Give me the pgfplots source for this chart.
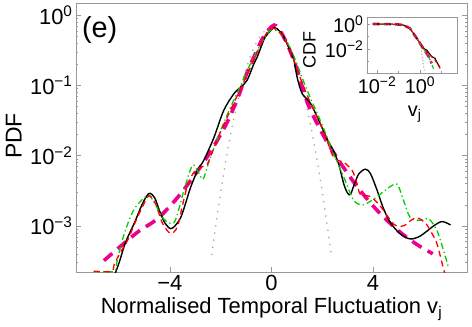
\documentclass[border=0pt]{standalone}
\usepackage{fontspec}
\setmainfont{Liberation Sans}
\usepackage{pgfplots}
\pgfplotsset{compat=1.18}
\definecolor{axgray}{gray}{0.6}
\definecolor{dgreen}{RGB}{0,205,0}
\definecolor{gaussgray}{gray}{0.68}
\begin{document}
\begin{tikzpicture}
\path[use as bounding box] (-76bp,-55bp) rectangle (396bp,272bp);
% main PDF panel
\begin{axis}[
    at={(0,0)}, anchor=south west,
    scale only axis, width=391bp, height=268.7bp,
    ymode=log,
    xmin=-7.7, xmax=7.7, ymin=2.2e-4, ymax=1.47,
    xtick={-4,0,4}, xticklabels={−4,0,4},
    ytick={1e-3,1e-2,1e-1,1},
    yticklabels={10\textsuperscript{−3},10\textsuperscript{−2},10\textsuperscript{−1},10\textsuperscript{0}},
    minor ytick={3e-4,4e-4,5e-4,6e-4,7e-4,8e-4,9e-4,2e-3,3e-3,4e-3,5e-3,6e-3,7e-3,8e-3,9e-3,
                 2e-2,3e-2,4e-2,5e-2,6e-2,7e-2,8e-2,9e-2,0.2,0.3,0.4,0.5,0.6,0.7,0.8,0.9},
    xtick pos=bottom, ytick pos=both,
    tick align=inside,
    major tick length=5bp, minor tick length=2.5bp,
    axis line style={axgray}, tick style={axgray},
    tick label style={font=\fontsize{22}{26}\selectfont},
    xlabel={Normalised Temporal Fluctuation v\textsubscript{j}},
    ylabel={PDF},
    every axis x label/.style={font=\fontsize{22}{26}\selectfont, at={(axis description cs:0.5,0)}, anchor=base, yshift=-41bp},
    every axis y label/.style={font=\fontsize{23}{27}\selectfont, at={(axis description cs:-0.159,0.506)}, anchor=center, rotate=90},
]
% Gaussian reference
\addplot[gaussgray, line width=1.7bp, line cap=round, dash pattern=on 0.2bp off 7bp, smooth] coordinates {
(-2.35,3.9e-4) (-2.25,7.3e-4) (-2.0,3.03e-3) (-1.75,1.07e-2) (-1.5,3.18e-2) (-1.25,8.0e-2)
(-1.0,0.171) (-0.75,0.307) (-0.5,0.467) (-0.25,0.601) (0,0.654) (0.25,0.601) (0.5,0.467)
(0.75,0.307) (1.0,0.171) (1.25,8.0e-2) (1.5,3.18e-2) (1.75,1.07e-2) (2.0,3.03e-3)
(2.25,7.3e-4) (2.35,3.9e-4)};
% fitted model
\addplot[magenta, line width=3.6bp, dash pattern=on 11bp off 7bp, smooth] coordinates {
(-6.6,3.2e-4) (-5.3,8.0e-4) (-4.5,1.25e-3) (-3.71,2.5e-3) (-2.93,5.9e-3) (-2.33,1.25e-2)
(-1.74,3.0e-2) (-1.3,7.0e-2) (-1.0,0.14) (-0.6,0.3) (-0.3,0.5) (0.1,0.72) (0.4,0.55)
(0.7,0.33) (1.0,0.17) (1.3,7.5e-2) (1.54,4.4e-2) (2.13,1.7e-2) (2.7,8.0e-3) (3.4,3.5e-3)
(4.2,1.6e-3) (5.0,8.5e-4) (5.7,5.5e-4) (6.35,4.0e-4)};
% data 1
\addplot[black, line width=1.4bp, smooth, tension=0.5] coordinates {
(-6.2,1.9e-4) (-6.0,3.0e-4) (-5.75,5.8e-4) (-5.4,1.1e-3) (-5.1,2.0e-3) (-4.9,2.7e-3)
(-4.78,2.9e-3) (-4.6,2.5e-3) (-4.4,1.6e-3) (-4.2,1.1e-3) (-3.98,9.1e-4) (-3.8,1.0e-3)
(-3.58,1.3e-3) (-3.4,2.0e-3) (-3.19,3.5e-3) (-2.9,6.3e-3) (-2.67,8.5e-3) (-2.27,1.8e-2)
(-1.88,4.4e-2) (-1.48,7.6e-2) (-1.2,9.5e-2) (-0.96,0.118) (-0.7,0.2) (-0.56,0.254)
(-0.4,0.36) (-0.24,0.49) (0.09,0.66) (0.3,0.6) (0.48,0.49) (0.7,0.33) (0.88,0.23)
(1.01,0.13) (1.21,7.6e-2) (1.54,5.5e-2) (1.93,2.8e-2) (2.2,1.7e-2) (2.45,1.15e-2)
(2.65,7.5e-3) (2.85,3.9e-3) (3.0,2.9e-3) (3.11,2.8e-3) (3.25,3.8e-3) (3.44,5.5e-3)
(3.70,6.4e-3) (3.9,5.5e-3) (4.16,3.2e-3) (4.4,1.8e-3) (4.69,1.1e-3) (5.08,7.6e-4)
(5.47,6.5e-4) (5.87,7.2e-4) (6.39,1.0e-3) (6.72,1.15e-3) (7.05,1.03e-3)};
% data 2
\addplot[dgreen, line width=1.3bp, dash pattern=on 6bp off 3bp on 1.3bp off 3bp, smooth, tension=0.5] coordinates {
(-7.0,2.25e-4) (-6.2,2.25e-4) (-6.08,3.2e-4) (-5.81,7.5e-4) (-5.42,1.7e-3) (-4.9,2.7e-3)
(-4.7,2.4e-3) (-4.24,1.25e-3) (-3.85,1.1e-3) (-3.6,2.0e-3) (-3.45,3.2e-3) (-3.12,7.2e-3)
(-2.9,6.0e-3) (-2.7,4.6e-3) (-2.5,7.5e-3) (-2.2,1.5e-2) (-1.9,2.8e-2) (-1.6,5.0e-2)
(-1.3,8.5e-2) (-1.0,0.15) (-0.7,0.25) (-0.4,0.4) (-0.1,0.58) (0.05,0.62) (0.3,0.57)
(0.6,0.42) (0.9,0.25) (1.2,0.13) (1.5,7.0e-2) (1.8,4.0e-2) (2.1,2.2e-2) (2.45,1.05e-2)
(2.85,4.9e-3) (3.24,2.3e-3) (3.63,2.0e-3) (4.16,2.6e-3) (4.62,3.5e-3) (4.95,3.9e-3)
(5.2,2.3e-3) (5.47,1.3e-3) (5.87,1.2e-3) (6.2,1.25e-3) (6.52,8.5e-4) (6.78,4.4e-4)
(6.98,2.5e-4)};
% data 3
\addplot[red, line width=1.3bp, dash pattern=on 6bp off 4bp, smooth, tension=0.5] coordinates {
(-7.0,2.25e-4) (-6.3,2.25e-4) (-6.2,2.8e-4) (-5.95,4.2e-4) (-5.68,6.1e-4) (-5.29,1.3e-3)
(-4.9,2.5e-3) (-4.75,2.6e-3) (-4.55,2.0e-3) (-4.3,1.1e-3) (-3.98,7.8e-4) (-3.71,9.6e-4)
(-3.5,2.0e-3) (-3.32,3.6e-3) (-3.1,5.5e-3) (-2.93,6.4e-3) (-2.7,7.0e-3) (-2.53,7.5e-3)
(-2.3,1.2e-2) (-2.0,2.2e-2) (-1.7,3.8e-2) (-1.4,6.5e-2) (-1.1,0.11) (-0.8,0.19)
(-0.5,0.33) (-0.2,0.55) (0.05,0.65) (0.3,0.58) (0.6,0.4) (0.9,0.22) (1.2,0.11)
(1.5,6.0e-2) (1.8,3.5e-2) (2.1,2.0e-2) (2.45,9.4e-3) (2.85,8.0e-3) (3.18,6.1e-3)
(3.35,4.2e-3) (3.5,2.8e-3) (3.9,2.6e-3) (4.29,1.9e-3) (4.82,1.05e-3) (5.2,1.0e-3)
(5.5,1.2e-3) (5.74,1.3e-3) (6.06,1.1e-3) (6.3,8.0e-4) (6.52,5.5e-4) (6.78,2.4e-4)
(6.85,2.0e-4)};
\node[anchor=base west, inner sep=0, font=\fontsize{29}{34}\selectfont] at (rel axis cs:0.015,0.871) {(e)};
\end{axis}
% inset CDF panel
\begin{axis}[
    at={(291bp,199bp)}, anchor=south west,
    scale only axis, width=90bp, height=56bp,
    xmode=log, ymode=log,
    xmin=0.0034, xmax=52.5, ymin=1.2e-4, ymax=3.63,
    xtick={0.01,1}, xticklabels={10\textsuperscript{−2},10\textsuperscript{0}},
    ytick={0.01,1}, yticklabels={10\textsuperscript{−2},10\textsuperscript{0}},
    minor xtick={0.1,10}, minor ytick={1e-3,0.1},
    xtick pos=bottom, ytick pos=left,
    tick align=inside,
    major tick length=3bp, minor tick length=1.5bp,
    axis line style={axgray}, tick style={axgray},
    axis background/.style={fill=white},
    tick label style={font=\fontsize{20}{24}\selectfont},
    xlabel={v\textsubscript{j}}, ylabel={CDF},
    every axis x label/.style={font=\fontsize{20}{24}\selectfont, at={(axis description cs:0.53,-0.74)}, anchor=center},
    every axis y label/.style={font=\fontsize{18}{22}\selectfont, at={(axis description cs:-0.64,0.41)}, anchor=center, rotate=90},
]
\addplot[gaussgray, line width=1.3bp, line cap=round, dash pattern=on 0.2bp off 3bp] coordinates {
(0.00631,1) (0.1,0.912) (0.339,0.447) (0.589,0.1) (0.794,0.063) (1.0,0.0389)
(1.2,0.00447) (1.413,5.25e-4) (1.585,2.09e-4)};
\addplot[magenta, line width=2.6bp, dash pattern=on 7bp off 4bp] coordinates {
(0.00631,1) (0.0316,0.977) (0.1,0.912) (0.166,0.832) (0.339,0.447) (0.708,0.0708)
(1.413,0.0112) (2.51,0.00251) (3.47,7.08e-4)};
\addplot[black, line width=1.1bp] coordinates {
(0.00631,1) (0.0316,0.977) (0.1,0.912) (0.166,0.832) (0.339,0.447) (0.708,0.0708)
(1.413,0.0112) (2.04,0.00832) (3.47,0.00251) (5.01,0.00178) (6.46,7.08e-4) (8.51,3.39e-4)};
\addplot[dgreen, line width=1.1bp, dash pattern=on 4bp off 2bp on 1bp off 2bp] coordinates {
(0.00631,1) (0.0316,0.977) (0.1,0.912) (0.166,0.832) (0.339,0.447) (0.708,0.0708)
(1.413,0.0105) (2.51,0.00251) (4.47,2.09e-4)};
\addplot[red, line width=1.1bp, dash pattern=on 4bp off 2.5bp] coordinates {
(0.00631,1) (0.0316,0.977) (0.1,0.912) (0.166,0.832) (0.339,0.447) (0.708,0.0708)
(1.413,0.0112) (2.95,0.00316) (5.01,0.00126) (9.55,2.09e-4)};
\end{axis}
\end{tikzpicture}
\end{document}
